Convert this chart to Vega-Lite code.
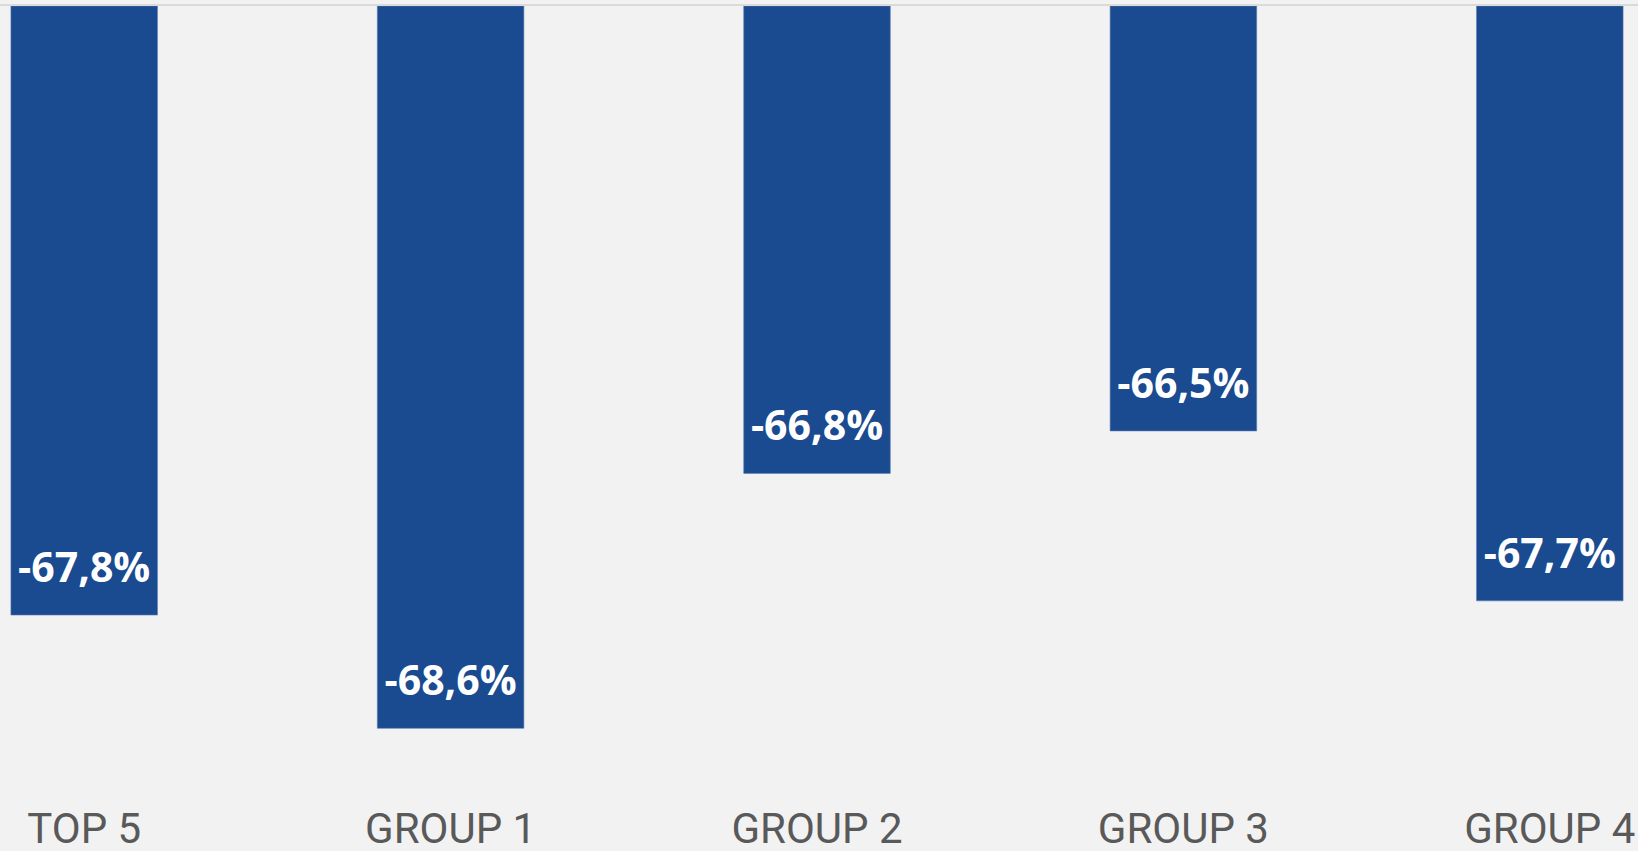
{
  "$schema": "https://vega.github.io/schema/vega-lite/v6.json",
  "autosize": "none",
  "width": 1832,
  "height": 779,
  "padding": {"left": -99, "top": 6, "right": -95, "bottom": 66},
  "background": "#f2f2f2",
  "config": {"view": {"stroke": null}},
  "data": {
    "values": [
      {"group": "TOP 5", "value": -67.8, "label": "-67,8%"},
      {"group": "GROUP 1", "value": -68.6, "label": "-68,6%"},
      {"group": "GROUP 2", "value": -66.8, "label": "-66,8%"},
      {"group": "GROUP 3", "value": -66.5, "label": "-66,5%"},
      {"group": "GROUP 4", "value": -67.7, "label": "-67,7%"}
    ]
  },
  "encoding": {
    "x": {
      "field": "group",
      "type": "nominal",
      "sort": null,
      "scale": {"paddingInner": 0.6, "paddingOuter": 0.3},
      "axis": {
        "title": null,
        "domain": false,
        "ticks": false,
        "tickSize": 0,
        "labelAngle": 0,
        "labelFont": "Roboto",
        "labelFontSize": 42,
        "labelColor": "#595959",
        "labelBaseline": "alphabetic",
        "labelPadding": 57,
        "labelOverlap": false,
        "labelBound": false,
        "labelFlush": false
      }
    }
  },
  "layer": [
    {
      "mark": {"type": "bar", "color": "#1a4a8f", "stroke": "#5b7db5", "strokeWidth": 0.6},
      "encoding": {
        "y": {
          "field": "value",
          "type": "quantitative",
          "scale": {"domain": [-69, -63.5], "zero": false, "nice": false},
          "axis": null
        },
        "y2": {"datum": -63.5}
      }
    },
    {
      "mark": {"type": "rule", "stroke": "#dadada", "strokeWidth": 2, "yOffset": -1},
      "encoding": {
        "y": {"datum": -63.5, "type": "quantitative"},
        "x": {"value": 0},
        "x2": {"value": 1832}
      }
    },
    {
      "mark": {
        "type": "text",
        "font": "Open Sans",
        "fontWeight": "bold",
        "fontSize": 41,
        "color": "white",
        "baseline": "alphabetic",
        "align": "center",
        "dy": -33
      },
      "encoding": {
        "y": {"field": "value", "type": "quantitative"},
        "text": {"field": "label"}
      }
    }
  ]
}
